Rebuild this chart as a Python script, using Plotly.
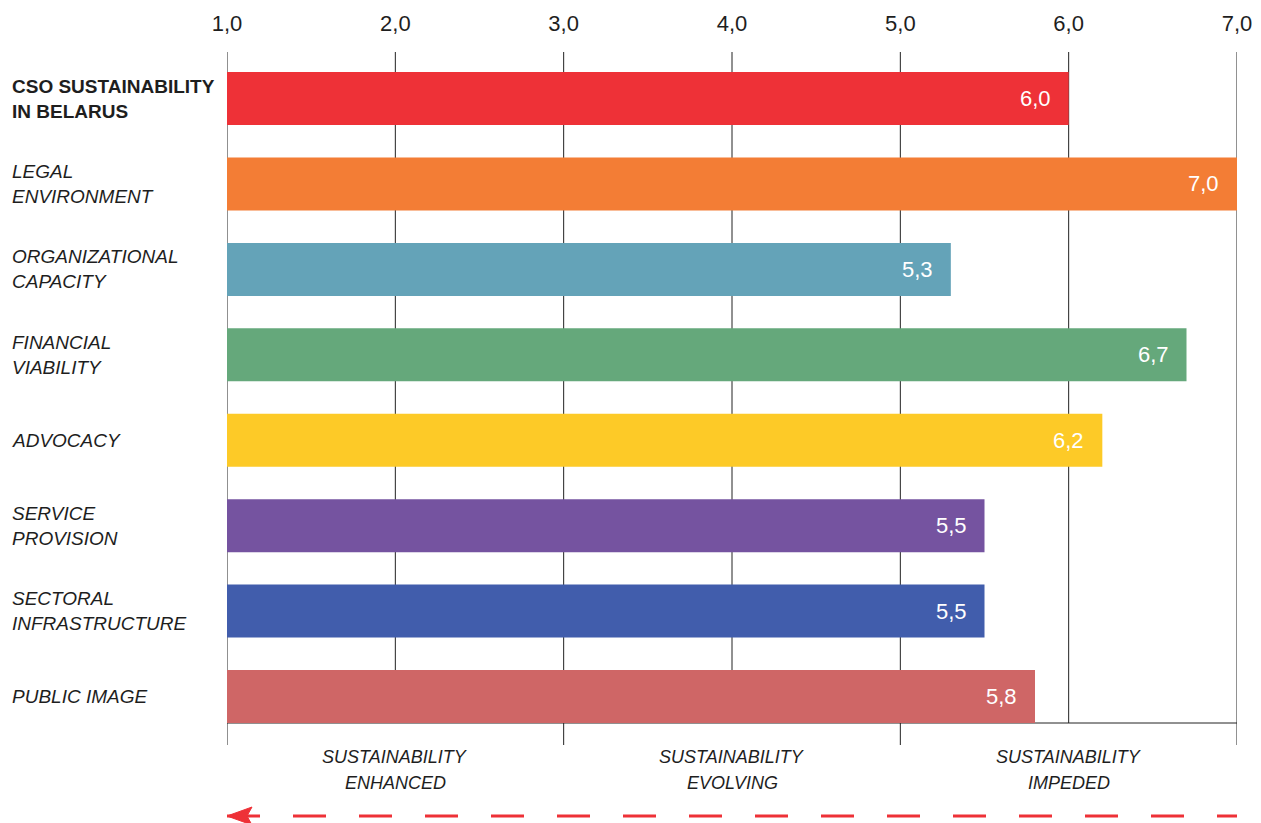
import plotly.graph_objects as go

categories = [
    "<b>CSO SUSTAINABILITY<br>IN BELARUS</b>",
    "<i>LEGAL<br>ENVIRONMENT</i>",
    "<i>ORGANIZATIONAL<br>CAPACITY</i>",
    "<i>FINANCIAL<br>VIABILITY</i>",
    "<i>ADVOCACY</i>",
    "<i>SERVICE<br>PROVISION</i>",
    "<i>SECTORAL<br>INFRASTRUCTURE</i>",
    "<i>PUBLIC IMAGE</i>",
]
scores = [6.0, 7.0, 5.3, 6.7, 6.2, 5.5, 5.5, 5.8]
bar_colors = ["#EE3137", "#F37D35", "#64A3B8", "#65A87B", "#FDCA27", "#7553A0", "#415DAC", "#CF6666"]
x_ticks = [1, 2, 3, 4, 5, 6, 7]
zone_bounds = [1, 3, 5, 7]
zone_centers = [2, 4, 6]
zone_line1 = ["SUSTAINABILITY", "SUSTAINABILITY", "SUSTAINABILITY"]
zone_line2 = ["ENHANCED", "EVOLVING", "IMPEDED"]

W, H = 1261, 823
L, R, T, B = 227, 24, 52, 100
plot_h = H - T - B
plot_w = W - L - R

def py(pix):
    return (H - B - pix) / plot_h

def px(pix):
    return (pix - L) / plot_w

FONT = "Liberation Sans, Arial, sans-serif"

ypos = list(range(len(categories)))

fig = go.Figure()
fig.add_trace(go.Bar(
    x=[s - 1 for s in scores], base=1, y=ypos, orientation="h",
    marker=dict(color=bar_colors, line=dict(width=0)),
    width=0.62, hoverinfo="skip",
))

shapes = []
for t in x_ticks:
    shapes.append(dict(type="line", xref="x", yref="paper", x0=t, x1=t, y0=0, y1=1,
                       line=dict(color="#222222", width=1), layer="below"))
shapes.append(dict(type="line", xref="x", yref="paper", x0=1, x1=7, y0=0, y1=0,
                   line=dict(color="#222222", width=1), layer="below"))
for zb in zone_bounds:
    shapes.append(dict(type="line", xref="x", yref="paper", x0=zb, x1=zb, y0=0, y1=py(745),
                       line=dict(color="#222222", width=1)))
# dashed direction line
shapes.append(dict(type="line", xref="x", yref="paper", x0=1, x1=7, y0=py(816), y1=py(816),
                   line=dict(color="#EE3137", width=3, dash="33px,33px")))
# arrow head
shapes.append(dict(type="path", xref="x", yref="paper", xsizemode="pixel", ysizemode="pixel",
                   xanchor=1, yanchor=py(816),
                   path="M0,0 L25,-9 L20,0 L25,9 Z",
                   fillcolor="#EE3137", line=dict(color="#EE3137", width=1)))

annotations = []
for i, c in enumerate(categories):
    annotations.append(dict(xref="paper", yref="y", x=px(10), y=i, xanchor="left", yanchor="middle",
                            align="left", text=c, showarrow=False,
                            font=dict(family=FONT, size=19, color="#1e1e1e")))
for i, s in enumerate(scores):
    annotations.append(dict(xref="x", yref="y", x=s, y=i, xanchor="right", yanchor="middle",
                            xshift=-16, text=f"{s:.1f}".replace(".", ","), showarrow=False,
                            font=dict(family=FONT, size=22, color="white")))
for zc, l1, l2 in zip(zone_centers, zone_line1, zone_line2):
    for txt, ypix in ((l1, 757), (l2, 783)):
        annotations.append(dict(xref="x", yref="paper", x=zc, y=py(ypix), xanchor="center", yanchor="middle",
                                align="center", text=f"<i>{txt}</i>", showarrow=False,
                                font=dict(family=FONT, size=18, color="#1e1e1e")))

fig.update_layout(
    width=W, height=H,
    margin=dict(l=L, r=R, t=T, b=B, pad=0, autoexpand=False),
    paper_bgcolor="white", plot_bgcolor="white",
    separators=",.",
    showlegend=False,
    shapes=shapes,
    annotations=annotations,
    xaxis=dict(range=[1, 7], side="top", tickvals=x_ticks, tickformat=".1f",
               showgrid=False, zeroline=False, showline=False, ticks="",
               ticklabelstandoff=16, automargin=False,
               tickfont=dict(family=FONT, size=22, color="#1e1e1e")),
    yaxis=dict(range=[7.31, -0.545], showticklabels=False, showgrid=False, zeroline=False,
               showline=False, ticks="", automargin=False),
)

fig.write_html("out.html")
